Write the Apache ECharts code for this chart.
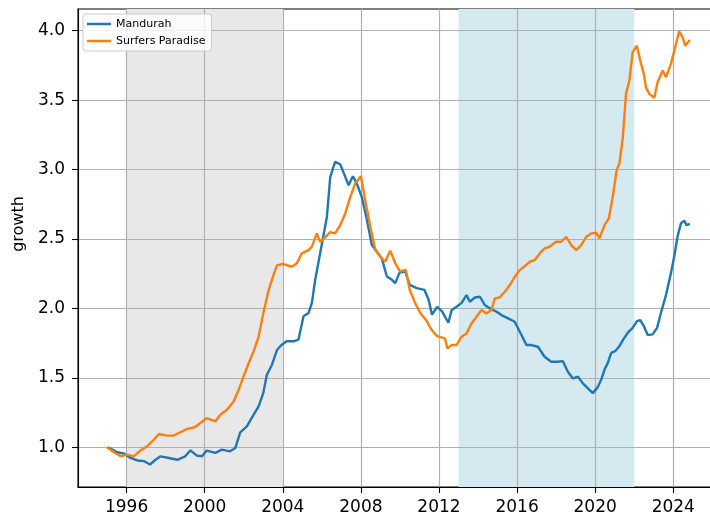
<!DOCTYPE html>
<html>
<head>
<meta charset="utf-8">
<script src="https://cdn.jsdelivr.net/npm/echarts@6/dist/echarts.min.js"></script>
<style>
  html, body { margin: 0; padding: 0; background: #fff; }
  #chart { width: 710px; height: 517px; }
</style>
</head>
<body>
<div id="chart"></div>
<script>
// values (decimal year, growth index)
var mandurahYears = [1995.0, 1995.18, 1995.52, 1995.86, 1996.2, 1996.55, 1996.9, 1997.2, 1997.48, 1997.74,
  1998.16, 1998.6, 1999.0, 1999.27, 1999.6, 1999.86, 2000.1, 2000.55, 2000.88, 2001.3,
  2001.57, 2001.82, 2002.16, 2002.5, 2002.76, 2003.0, 2003.18, 2003.44, 2003.7, 2003.95,
  2004.2, 2004.55, 2004.8, 2005.06, 2005.32, 2005.49, 2005.66, 2005.88, 2006.09, 2006.26,
  2006.43, 2006.68, 2006.94, 2007.2, 2007.37, 2007.59, 2007.79, 2008.05, 2008.31, 2008.56,
  2008.82, 2009.07, 2009.33, 2009.59, 2009.76, 2009.98, 2010.27, 2010.5, 2010.86, 2011.25,
  2011.47, 2011.64, 2011.9, 2012.15, 2012.48, 2012.65, 2012.9, 2013.16, 2013.41, 2013.58,
  2013.84, 2014.1, 2014.35, 2014.6, 2014.95, 2015.2, 2015.54, 2015.88, 2016.14, 2016.48,
  2016.73, 2017.07, 2017.41, 2017.75, 2018.09, 2018.35, 2018.6, 2018.86, 2019.12, 2019.37,
  2019.63, 2019.88, 2020.14, 2020.31, 2020.48, 2020.65, 2020.82, 2021.02, 2021.24, 2021.46,
  2021.67, 2021.92, 2022.14, 2022.31, 2022.49, 2022.69, 2022.94, 2023.17, 2023.37, 2023.63,
  2023.88, 2024.05, 2024.22, 2024.39, 2024.56, 2024.68, 2024.85];
var mandurahValues = [1.0, 0.99, 0.964, 0.955, 0.923, 0.905, 0.9, 0.876, 0.91, 0.935,
  0.923, 0.91, 0.935, 0.978, 0.94, 0.935, 0.976, 0.96, 0.983, 0.971,
  0.995, 1.108, 1.15, 1.234, 1.294, 1.39, 1.52, 1.593, 1.7, 1.739,
  1.763, 1.763, 1.775, 1.943, 1.967, 2.04, 2.206, 2.373, 2.53, 2.66,
  2.947, 3.055, 3.038, 2.947, 2.887, 2.952, 2.9, 2.8, 2.636, 2.457,
  2.409, 2.36, 2.23, 2.206, 2.182, 2.258, 2.266, 2.17, 2.146, 2.134,
  2.062, 1.955, 2.01, 1.98, 1.897, 1.988, 2.012, 2.04, 2.096, 2.048,
  2.079, 2.084, 2.024, 2.0, 1.976, 1.952, 1.928, 1.904, 1.832, 1.736,
  1.736, 1.724, 1.652, 1.616, 1.616, 1.62, 1.544, 1.496, 1.508, 1.46,
  1.424, 1.39, 1.435, 1.488, 1.56, 1.608, 1.68, 1.692, 1.728, 1.781,
  1.825, 1.86, 1.909, 1.916, 1.873, 1.808, 1.813, 1.86, 1.969, 2.098,
  2.254, 2.373, 2.517, 2.612, 2.632, 2.6, 2.608];

var surfersYears = [1995.0, 1995.35, 1995.7, 1996.03, 1996.37, 1996.7, 1997.05, 1997.4, 1997.65, 1998.08,
  1998.4, 1998.75, 1999.1, 1999.5, 1999.78, 2000.1, 2000.55, 2000.8, 2001.14, 2001.48,
  2001.74, 2001.99, 2002.25, 2002.5, 2002.76, 2003.0, 2003.27, 2003.52, 2003.7, 2004.0,
  2004.46, 2004.72, 2004.97, 2005.32, 2005.49, 2005.74, 2005.91, 2006.17, 2006.43, 2006.68,
  2006.94, 2007.2, 2007.45, 2007.71, 2008.0, 2008.22, 2008.48, 2008.74, 2008.99, 2009.25,
  2009.5, 2009.76, 2010.0, 2010.3, 2010.5, 2010.78, 2011.04, 2011.38, 2011.6, 2011.9,
  2012.31, 2012.43, 2012.65, 2012.9, 2013.16, 2013.41, 2013.67, 2013.92, 2014.18, 2014.43,
  2014.69, 2014.86, 2015.11, 2015.37, 2015.63, 2015.88, 2016.14, 2016.4, 2016.65, 2016.91,
  2017.16, 2017.41, 2017.67, 2018.0, 2018.26, 2018.52, 2018.77, 2019.03, 2019.29, 2019.54,
  2019.8, 2020.05, 2020.22, 2020.48, 2020.7, 2020.9, 2021.1, 2021.24, 2021.41, 2021.58,
  2021.75, 2021.92, 2022.13, 2022.35, 2022.49, 2022.6, 2022.77, 2023.03, 2023.2, 2023.46,
  2023.63, 2023.88, 2024.14, 2024.3, 2024.48, 2024.61, 2024.85];
var surfersValues = [1.0, 0.964, 0.935, 0.947, 0.935, 0.976, 1.007, 1.055, 1.096, 1.084,
  1.084, 1.108, 1.132, 1.144, 1.175, 1.21, 1.187, 1.234, 1.27, 1.33,
  1.414, 1.51, 1.605, 1.689, 1.797, 1.964, 2.13, 2.24, 2.31, 2.32,
  2.3, 2.325, 2.397, 2.42, 2.445, 2.54, 2.48, 2.512, 2.55, 2.54,
  2.6, 2.684, 2.8, 2.9, 2.952, 2.78, 2.59, 2.42, 2.373, 2.337,
  2.416, 2.325, 2.266, 2.277, 2.134, 2.038, 1.967, 1.907, 1.85, 1.8,
  1.784, 1.712, 1.736, 1.736, 1.796, 1.82, 1.892, 1.94, 1.988, 1.964,
  1.988, 2.072, 2.079, 2.12, 2.168, 2.228, 2.276, 2.305, 2.336, 2.348,
  2.396, 2.432, 2.444, 2.48, 2.48, 2.516, 2.456, 2.42, 2.456, 2.516,
  2.54, 2.545, 2.505, 2.6, 2.648, 2.804, 2.995, 3.043, 3.222, 3.545,
  3.641, 3.844, 3.892, 3.761, 3.689, 3.593, 3.545, 3.517, 3.63, 3.713,
  3.665, 3.761, 3.904, 3.995, 3.952, 3.892, 3.933];

var yearTicks = [1996, 2000, 2004, 2008, 2012, 2016, 2020, 2024];
var growthTicks = [1.0, 1.5, 2.0, 2.5, 3.0, 3.5, 4.0];
var greySpan = [1996, 2004];
var blueSpan = [2013, 2022];

function zip(xs, ys) {
  var out = [];
  for (var i = 0; i < xs.length; i++) out.push([xs[i], ys[i]]);
  return out;
}

var font = 'DejaVu Sans';
var chart = echarts.init(document.getElementById('chart'), null, { renderer: 'canvas' });

var option = {
  animation: false,
  textStyle: { fontFamily: font },
  grid: {
    left: 78, width: 639, top: 9, height: 478,
    outerBoundsMode: 'none',
    containLabel: false,
    show: true, borderColor: '#000', borderWidth: 1.1, backgroundColor: 'transparent'
  },
  legend: {
    data: ['Mandurah', 'Surfers Paradise'],
    orient: 'vertical',
    left: 83, top: 14,
    padding: [4, 6, 4, 4],
    itemGap: 5,
    itemWidth: 24, itemHeight: 2.5,
    icon: 'rect',
    backgroundColor: 'rgba(255,255,255,0.8)',
    borderColor: '#cccccc', borderWidth: 1, borderRadius: 3,
    textStyle: { fontFamily: font, fontSize: 11, color: '#000', lineHeight: 12 }
  },
  xAxis: {
    type: 'value',
    min: 1993.51, max: 2026.24,
    minInterval: 4, maxInterval: 4,
    z: 1,
    axisLine: { show: true, lineStyle: { color: '#000', width: 1.1 } },
    axisTick: { show: true, length: 6, customValues: yearTicks, lineStyle: { color: '#000', width: 1.1 } },
    axisLabel: { customValues: yearTicks, margin: 12, color: '#000', fontSize: 17, fontFamily: font,
      formatter: function (v) { return String(v); } },
    splitLine: { show: true, lineStyle: { color: '#b0b0b0', width: 1.2 } }
  },
  yAxis: {
    type: 'value',
    min: 0.714, max: 4.156,
    minInterval: 0.5, maxInterval: 0.5,
    z: 1,
    name: 'growth',
    nameLocation: 'middle',
    nameRotate: 90,
    nameGap: 50,
    nameTextStyle: { fontFamily: font, fontSize: 16, color: '#000', padding: [0, 0, 0, 48] },
    axisLine: { show: true, lineStyle: { color: '#000', width: 1.1 } },
    axisTick: { show: true, length: 6, customValues: growthTicks, lineStyle: { color: '#000', width: 1.1 } },
    axisLabel: { customValues: growthTicks, margin: 13, color: '#000', fontSize: 17, fontFamily: font,
      formatter: function (v) { return v.toFixed(1); } },
    splitLine: { show: true, lineStyle: { color: '#b0b0b0', width: 1.2 } }
  },
  series: [
    {
      name: 'shading',
      type: 'line',
      data: [],
      z: 0,
      silent: true,
      markArea: {
        z: 0,
        silent: true,
        data: [
          [{ xAxis: greySpan[0], itemStyle: { color: '#e8e8e8' } }, { xAxis: greySpan[1] }],
          [{ xAxis: blueSpan[0], itemStyle: { color: '#d5e9f0' } }, { xAxis: blueSpan[1] }]
        ]
      }
    },
    {
      name: 'Mandurah',
      type: 'line',
      z: 2,
      data: zip(mandurahYears, mandurahValues),
      showSymbol: false,
      color: '#1f77b4',
      lineStyle: { width: 2.4, color: '#1f77b4' }
    },
    {
      name: 'Surfers Paradise',
      type: 'line',
      z: 3,
      data: zip(surfersYears, surfersValues),
      showSymbol: false,
      color: '#ff7f0e',
      lineStyle: { width: 2.4, color: '#ff7f0e' }
    }
  ]
};

chart.setOption(option);
</script>
</body>
</html>
